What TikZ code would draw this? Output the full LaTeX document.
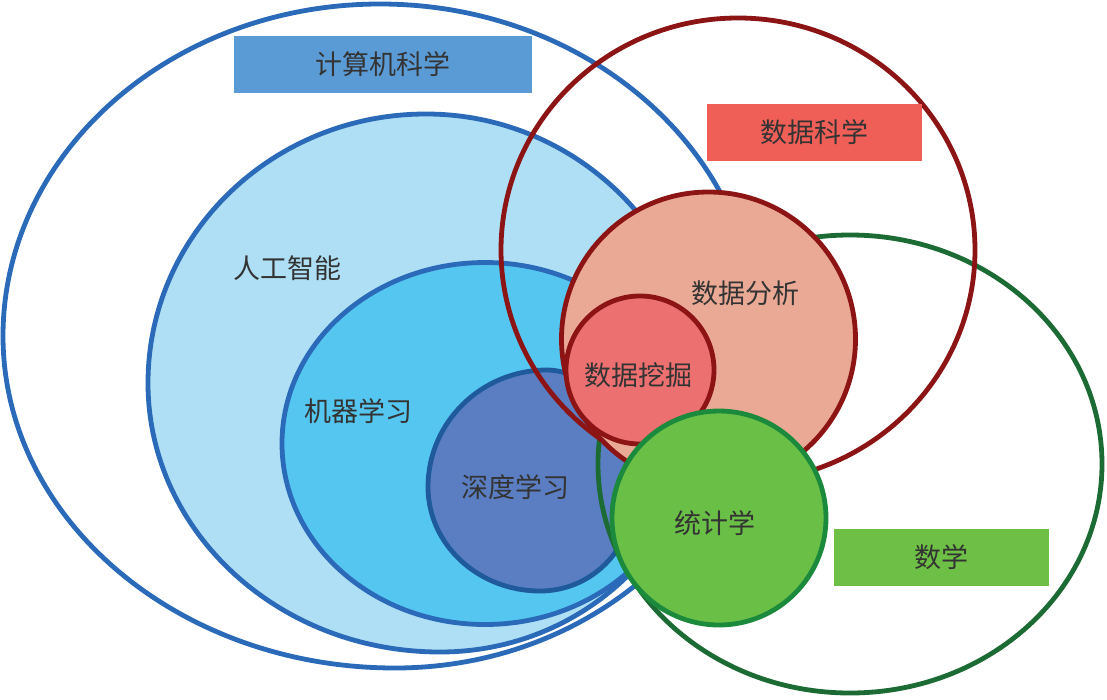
\documentclass[tikz,border=0pt]{standalone}
\usepackage{fontspec}
\setmainfont{Noto Sans CJK SC}
\definecolor{blueline}{HTML}{2A6AB8}
\definecolor{aifill}{HTML}{AEDFF5}
\definecolor{mlfill}{HTML}{55C6F0}
\definecolor{dlfill}{HTML}{5B7EC2}
\definecolor{dlline}{HTML}{1E5A9C}
\definecolor{redline}{HTML}{8C1414}
\definecolor{salmon}{HTML}{EAA994}
\definecolor{pinkfill}{HTML}{EC7070}
\definecolor{mathline}{HTML}{1D6B34}
\definecolor{statfill}{HTML}{6ABF46}
\definecolor{statline}{HTML}{1B8A3C}
\definecolor{csbox}{HTML}{5B9BD5}
\definecolor{dsbox}{HTML}{F05F57}
\definecolor{mathbox}{HTML}{6DBF45}
\definecolor{txt}{HTML}{333333}
\tikzset{
  shapeline/.style={line width=4.8pt},
  lbl/.style={text=txt, font=\fontsize{27}{27}\selectfont, inner sep=0pt},
  tagbox/.style={lbl, minimum width=#1, minimum height=57pt},
}
\begin{document}
\begin{tikzpicture}[x=1pt,y=-1pt]
\useasboundingbox (0,0) rectangle (1107,699);
% computer science
\draw[shapeline, draw=blueline, fill=white] (3,336)
  arc[start angle=180, end angle=90, x radius=377pt, y radius=332pt]
  arc[start angle=90, end angle=0, x radius=378pt, y radius=334pt]
  arc[start angle=0, end angle=-90, x radius=363pt, y radius=330pt]
  arc[start angle=270, end angle=180, x radius=392pt, y radius=332pt] -- cycle;
% artificial intelligence
\draw[shapeline, draw=blueline, fill=aifill] (148,383)
  arc[start angle=180, end angle=90, x radius=278pt, y radius=269pt]
  arc[start angle=90, end angle=0, x radius=278pt, y radius=281pt]
  arc[start angle=0, end angle=-90, x radius=264pt, y radius=257pt]
  arc[start angle=270, end angle=180, x radius=292pt, y radius=269pt] -- cycle;
% machine learning
\draw[shapeline, draw=blueline, fill=mlfill] (485,443.5) ellipse [x radius=203pt, y radius=181pt];
% deep learning
\draw[shapeline, draw=dlline, fill=dlfill] (428,487)
  arc[start angle=180, end angle=90, x radius=119pt, y radius=117pt]
  arc[start angle=90, end angle=0, x radius=85pt, y radius=130pt]
  arc[start angle=0, end angle=-90, x radius=92pt, y radius=91pt]
  arc[start angle=270, end angle=180, x radius=112pt, y radius=104pt] -- cycle;
% mathematics
\draw[shapeline, draw=mathline] (850,464) ellipse [x radius=252pt, y radius=229pt];
% data science
\draw[shapeline, draw=redline] (738,250) ellipse [x radius=237pt, y radius=232pt];
\draw[shapeline, draw=redline, fill=salmon] (708.5,339) circle [radius=147pt];
\draw[shapeline, draw=redline, fill=pinkfill] (640,370) circle [radius=74pt];
\draw[shapeline, draw=statline, fill=statfill] (719,518) circle [radius=107pt];
% tag boxes
\node[tagbox=298pt, fill=csbox] (cs) at (383,64.5) {计算机科学};
\node[tagbox=215pt, fill=dsbox] (ds) at (814.5,132) {数据科学};
\node[tagbox=215pt, fill=mathbox] (ma) at (941.5,557) {数学};
% labels
\node[lbl] (ai) at (287,268) {人工智能};
\node[lbl] (ml) at (358,411) {机器学习};
\node[lbl] (dl) at (515,487) {深度学习};
\node[lbl] (da) at (745,293) {数据分析};
\node[lbl] (dm) at (638,375) {数据挖掘};
\node[lbl] (st) at (715,523) {统计学};
\end{tikzpicture}
\end{document}
